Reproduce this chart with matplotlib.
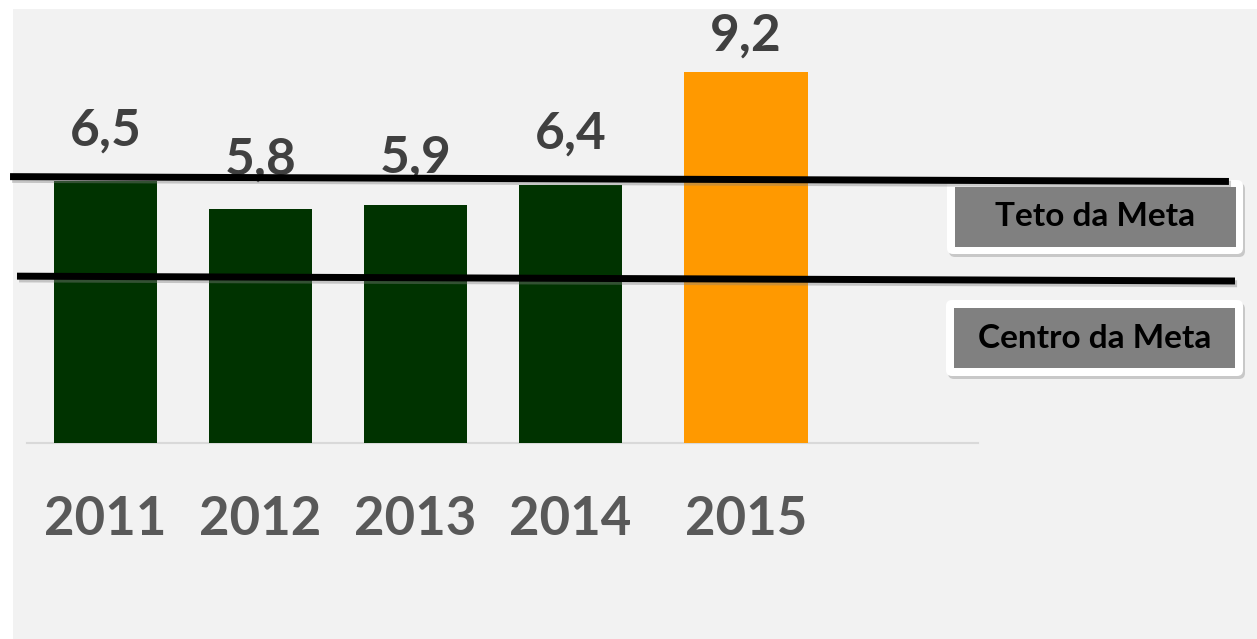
import matplotlib
matplotlib.use("Agg")
import matplotlib.pyplot as plt
from matplotlib.patches import Rectangle, FancyBboxPatch
from matplotlib.transforms import Affine2D
import matplotlib.patheffects as pe

# ---- data ----
years = ["2011", "2012", "2013", "2014", "2015"]
values = [6.5, 5.8, 5.9, 6.4, 9.2]
value_labels = ["6,5", "5,8", "5,9", "6,4", "9,2"]
teto_line = [6.61, 6.49]      # left / right end of "Teto da Meta" line
centro_line = [4.14, 4.02]    # left / right end of "Centro da Meta" line
box_labels = ["Teto da Meta", "Centro da Meta"]

# ---- layout / style ----
W, H = 1257, 639
xpos = [0, 1, 2, 3, 4.13]
widths = [0.67, 0.67, 0.67, 0.67, 0.80]
colors = ["#003300"] * 4 + ["#ff9900"]
label_pad = [26, 26, 24, 28, 13]
FONT = "Lato"

fig = plt.figure(figsize=(W / 100, H / 100), dpi=100, facecolor="white")
pix = Affine2D().scale(1 / W, -1 / H).translate(0, 1) + fig.transFigure

# gray panel
fig.patches.append(Rectangle((13, 9), W - 13, H - 9, transform=pix,
                             facecolor="#f2f2f2", edgecolor="none", zorder=-5))

ax = fig.add_axes([0, 0, 1, 1])
ax.set_zorder(1)
ax.set_facecolor("none")
ax.set_xlim(-105.5 / 155, (W - 105.5) / 155)
ax.set_ylim(-196 / 40.3, (H - 196) / 40.3)
ax.axis("off")

bars = ax.bar(xpos, values, width=widths, color=colors, zorder=2)

# baseline
ax.plot([-0.506, 5.63], [0, 0], color="#d9d9d9", lw=1.5, zorder=1)

# value labels
for x, v, lab, pad in zip(xpos, values, value_labels, label_pad):
    ax.annotate(lab, (x, v), xytext=(0, pad * 0.72), textcoords="offset points",
                ha="center", va="bottom", fontsize=37, fontweight="bold",
                family=FONT, color="#404040", zorder=3)

# year labels
for x, y in zip(xpos, years):
    ax.text(x, -1.91, y, ha="center", va="center", fontsize=38,
            fontweight="bold", family=FONT, color="#595959", zorder=3)

# target lines
shadow = [pe.SimpleLineShadow(offset=(1.5, -2), shadow_color="gray", alpha=0.4), pe.Normal()]
ax.plot([-0.616, 7.248], teto_line, color="black", lw=5, zorder=5,
        solid_capstyle="butt", path_effects=shadow)
ax.plot([-0.571, 7.287], centro_line, color="black", lw=5, zorder=5,
        solid_capstyle="butt", path_effects=shadow)

# label boxes (pixel coordinates)
boxes = [((947, 180, 296, 74), (955, 187, 281, 60)),
         ((946, 300, 297, 76), (954, 308, 281, 60))]
for (outer, inner), text in zip(boxes, box_labels):
    ox, oy, ow, oh = outer
    sh = FancyBboxPatch((ox + 2, oy + 3), ow, oh, boxstyle="round,pad=0,rounding_size=6",
                        transform=pix, facecolor="#c8c8c8", edgecolor="none", zorder=0.5)
    fig.patches.append(sh)
    fb = FancyBboxPatch((ox, oy), ow, oh, boxstyle="round,pad=0,rounding_size=6",
                        transform=pix, facecolor="white", edgecolor="none", zorder=0.6)
    fig.patches.append(fb)
    ix, iy, iw, ih = inner
    fig.patches.append(Rectangle((ix, iy), iw, ih, transform=pix,
                                 facecolor="#808080", edgecolor="none", zorder=0.7))
    fig.text((ix + iw / 2) / W, 1 - (iy + ih / 2) / H, text, ha="center", va="center",
             fontsize=24, fontweight="bold", family=FONT, color="black", zorder=0.8)

fig.savefig("out.png", dpi=100, facecolor="white")
